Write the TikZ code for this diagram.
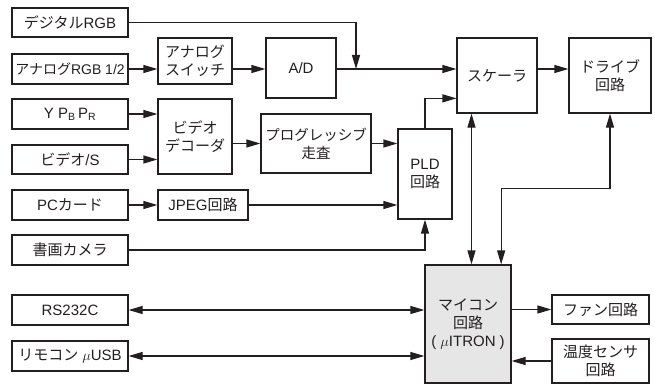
\documentclass[tikz,border=0pt]{standalone}
\usepackage{fontspec}
\setmainfont{Liberation Sans}
\newfontfamily\jpf{Noto Sans CJK JP}
\newcommand\jp[1]{{\jpf #1}}
\usetikzlibrary{arrows.meta,calc}
\definecolor{ink}{HTML}{231F20}
\definecolor{mcufill}{HTML}{E6E6E7}
\begin{document}
\begin{tikzpicture}[x=1pt,y=-1pt,
  box/.style={draw=ink,line width=1.2pt,inner sep=0pt,align=center,text=ink,
    font=\fontsize{15}{18}\selectfont},
  arr/.style={draw=ink,line width=1.2pt,-{Triangle[length=14pt,width=8pt]}},
  darr/.style={draw=ink,line width=1.2pt,{Triangle[length=14pt,width=8pt]}-{Triangle[length=14pt,width=8pt]}}]
\useasboundingbox (0,0) rectangle (655,385);
% left column
\node[box,minimum width=116pt,minimum height=29pt] (dig) at (70,22.5) {\jp{デジタル}RGB};
\node[box,minimum width=116pt,minimum height=30pt,font=\fontsize{14}{17}\selectfont] (arg) at (70,69) {\jp{アナログ}RGB 1/2};
\node[box,minimum width=116pt,minimum height=30pt] (ypb) at (70,114) {Y P\textsubscript{B}\,P\textsubscript{R}};
\node[box,minimum width=116pt,minimum height=29pt] (vs) at (70,159.5) {\jp{ビデオ}/S};
\node[box,minimum width=116pt,minimum height=30pt] (pc) at (70,205) {PC\jp{カード}};
\node[box,minimum width=116pt,minimum height=30pt] (cam) at (70,250) {\jp{書画カメラ}};
\node[box,minimum width=116pt,minimum height=30pt] (rs) at (70,310) {RS232C};
\node[box,minimum width=116pt,minimum height=30pt] (rem) at (70,356) {\jp{リモコン} $\mu$USB};
% second column
\node[box,minimum width=74pt,minimum height=46pt] (sw) at (195,61) {\jp{アナログ}\\\jp{スイッチ}};
\node[box,minimum width=74pt,minimum height=75pt] (dec) at (195,136.5) {\jp{ビデオ}\\\jp{デコーダ}};
\node[box,minimum width=90pt,minimum height=30pt] (jpeg) at (203,205) {JPEG\jp{回路}};
\node[box,minimum width=70pt,minimum height=60pt] (ad) at (301,68) {A/D};
\node[box,minimum width=110pt,minimum height=59pt,font=\fontsize{14.5}{18}\selectfont] (prog) at (316,143.5) {\jp{プログレッシブ}\\\jp{走査}};
\node[box,minimum width=54pt,minimum height=90pt] (pld) at (425,174) {PLD\\\jp{回路}};
\node[box,minimum width=80pt,minimum height=75pt] (sc) at (497,75.5) {\jp{スケーラ}};
\node[box,minimum width=82pt,minimum height=75pt] (drv) at (610,75.5) {\jp{ドライブ}\\\jp{回路}};
\node[box,fill=mcufill,minimum width=86pt,minimum height=118pt] (mcu) at (468,324) {\jp{マイコン}\\\jp{回路}\\( $\mu$ITRON )};
\node[box,minimum width=97pt,minimum height=29pt] (fan) at (600.5,309.5) {\jp{ファン回路}};
\node[box,minimum width=97pt,minimum height=44pt] (tmp) at (600.5,361) {\jp{温度センサ}\\\jp{回路}};
% helper coordinates
\coordinate (j) at (356,69);
\coordinate (scl) at ($(sc.south west)!0.2!(sc.north west)$);
\coordinate (ma) at ($(mcu.north west)!0.54!(mcu.north east)$);
\coordinate (mb) at ($(mcu.north west)!0.88!(mcu.north east)$);
% connectors
\draw[arr] (arg.east) -- (sw.west |- arg.east);
\draw[arr] (sw.east |- arg.east) -- (ad.west |- arg.east);
\draw[arr] (ad.east |- arg.east) -- (sc.west |- arg.east);
\draw[arr] (dig.east) -| (j);
\draw[arr] (sc.east |- arg.east) -- (drv.west |- arg.east);
\draw[arr] (ypb.east) -- (dec.west |- ypb.east);
\draw[arr] (vs.east) -- (dec.west |- vs.east);
\draw[arr] (dec.east |- prog.west) -- (prog.west);
\draw[arr] (prog.east) -- (pld.west |- prog.east);
\draw[arr] (pc.east) -- (jpeg.west);
\draw[arr] (jpeg.east) -- (pld.west |- jpeg.east);
\draw[arr] (cam.east) -| (pld.south);
\draw[arr] (pld.north) |- (scl);
\draw[darr] (ma) -- (ma |- sc.south);
\draw[darr] (mb) -- ++(0,-76) -| (drv.south);
\draw[darr] (rs.east) -- (mcu.west |- rs.east);
\draw[darr] (rem.east) -- (mcu.west |- rem.east);
\draw[arr] (mcu.east |- fan.west) -- (fan.west);
\draw[arr] (tmp.west) -- (mcu.east |- tmp.west);
\end{tikzpicture}
\end{document}
